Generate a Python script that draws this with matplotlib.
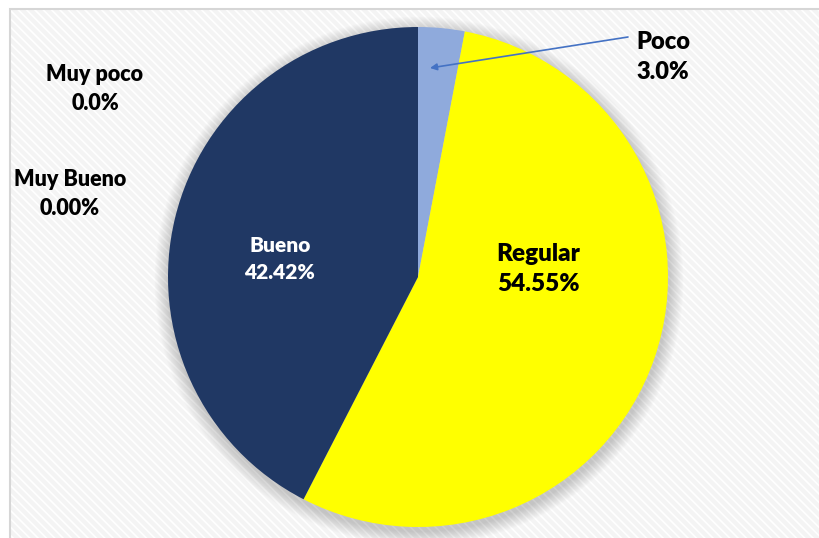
import matplotlib
matplotlib.use("Agg")
import matplotlib.pyplot as plt
from matplotlib.patches import Rectangle, Circle

plt.rcParams['font.family'] = ['Lato', 'DejaVu Sans']
plt.rcParams['hatch.linewidth'] = 1.2

# answers, clockwise from 12 o'clock
categorias = ["Muy poco", "Poco", "Regular", "Bueno", "Muy Bueno"]
porcentajes = [0.0, 3.0, 54.55, 42.42, 0.00]
decimales = [1, 1, 2, 2, 2]
colores = ["#FFFFFF", "#8FAADC", "#FFFF00", "#203864", "#7F7F7F"]

W, H = 819, 538
fig = plt.figure(figsize=(W / 100, H / 100), dpi=100)
ax = fig.add_axes([0, 0, 1, 1])

# striped chart area with thin grey border
ax.add_patch(Rectangle((9.5, -10), W, H - 8.5 + 10, facecolor="#F4F4F4",
                       edgecolor="#FFFFFF", hatch="\\\\\\\\", lw=0, zorder=0))
ax.add_patch(Rectangle((9.5, -10), W, H - 8.5 + 10, facecolor="none",
                       edgecolor="#D6D6D6", lw=1.5, zorder=1))

cx, cy, r = 418, H - 277, 250

# soft shadow under the pie
for i in range(16):
    ax.add_patch(Circle((cx + 1, cy - 4), r + 1 + i * 0.9, color="black",
                        alpha=0.012, lw=0, zorder=2))

wedges, _ = ax.pie(porcentajes, colors=colores, startangle=90, counterclock=False,
                   center=(cx, cy), radius=r, wedgeprops=dict(lw=0, zorder=3))
for w in wedges:
    w.set_zorder(3)

etiquetas = [f"{c}\n{p:.{d}f}%" for c, p, d in zip(categorias, porcentajes, decimales)]

# label positions (px from top-left) and styles
pos = [(95, 89), (663, 57), (538, 269), (280, 259), (70, 194)]
tamanos = [15.5, 17, 17.5, 15, 15.5]
tcolor = ["black", "black", "black", "white", "black"]
for et, (x, y), s, c in zip(etiquetas, pos, tamanos, tcolor):
    ax.text(x, H - y, et, ha="center", va="center", fontsize=s, fontweight="heavy",
            color=c, linespacing=1.45, zorder=5)

# leader arrow for the small slice
ax.annotate("", xy=(430, H - 68), xytext=(628, H - 37),
            arrowprops=dict(arrowstyle="-|>", color="#4472C4", lw=1.2,
                            mutation_scale=10, shrinkA=0, shrinkB=0), zorder=6)

ax.set_xlim(0, W)
ax.set_ylim(0, H)
ax.set_aspect("auto")
ax.axis("off")

fig.savefig("out.png", dpi=100)
